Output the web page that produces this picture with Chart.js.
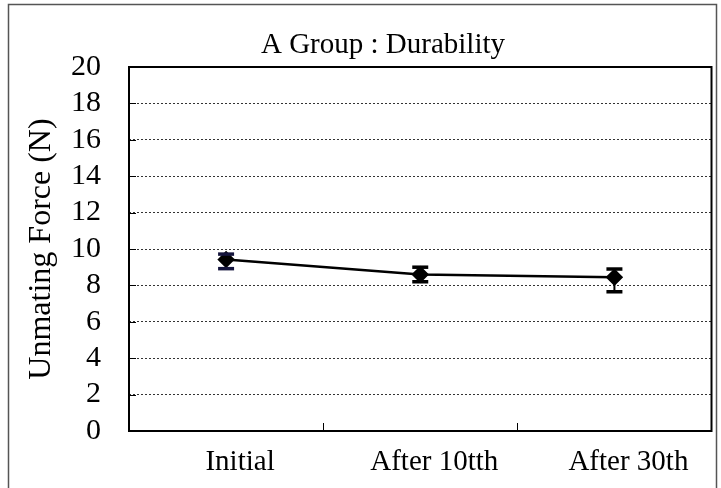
<!DOCTYPE html>
<html>
<head>
<meta charset="utf-8">
<script src="https://cdn.jsdelivr.net/npm/chart.js@4/dist/chart.umd.min.js"></script>
<style>
html,body{margin:0;padding:0;background:#fff;}
#wrap{width:721px;height:488px;position:relative;}
</style>
</head>
<body>
<div id="wrap"><canvas id="c" width="721" height="488"></canvas></div>
<script>
const categories = ["Initial", "After 10tth", "After 30th"];
const meanForce = [9.42, 8.6, 8.45];
const errPlus = [0.3, 0.4, 0.45];
const errMinus = [0.5, 0.4, 0.8];
const titleText = "A Group : Durability";
const yTitle = "Unmating Force (N)";

const FONT = "'Liberation Serif', 'Times New Roman', serif";

const framePlugin = {
  id: 'frame',
  beforeDraw(chart) {
    const ctx = chart.ctx;
    ctx.save();
    ctx.fillStyle = '#fff';
    ctx.fillRect(0, 0, chart.width, chart.height);
    ctx.strokeStyle = '#555';
    ctx.lineWidth = 1.5;
    ctx.beginPath();
    ctx.moveTo(8.5, 495); ctx.lineTo(8.5, 4.5); ctx.lineTo(716.5, 4.5); ctx.lineTo(716.5, 495);
    ctx.stroke();
    // title
    ctx.fillStyle = '#000';
    ctx.font = "29px " + FONT;
    ctx.textAlign = 'center';
    ctx.textBaseline = 'middle';
    ctx.fillText(titleText, 383, 45);
    ctx.restore();
  },
  afterDatasetsDraw(chart) {
    const ctx = chart.ctx;
    const a = chart.chartArea;
    const xs = chart.scales.x, ys = chart.scales.y;
    ctx.save();
    // error bars
    meanForce.forEach((v, i) => {
      const x = xs.getPixelForValue(i);
      const yt = ys.getPixelForValue(v + errPlus[i]);
      const yb = ys.getPixelForValue(v - errMinus[i]);
      ctx.strokeStyle = '#000';
      ctx.lineWidth = 2;
      ctx.beginPath(); ctx.moveTo(x, yt); ctx.lineTo(x, yb); ctx.stroke();
      ctx.lineWidth = 3.5;
      ctx.strokeStyle = i === 0 ? '#14143c' : '#000';
      ctx.beginPath(); ctx.moveTo(x - 8, yt); ctx.lineTo(x + 8, yt); ctx.stroke();
      ctx.beginPath(); ctx.moveTo(x - 8, yb); ctx.lineTo(x + 8, yb); ctx.stroke();
    });
    // plot frame
    ctx.lineWidth = 2;
    ctx.strokeStyle = '#000';
    ctx.strokeRect(a.left, a.top, a.right - a.left, a.bottom - a.top);
    // category boundary ticks
    ctx.lineWidth = 1;
    for (let i = 1; i < categories.length; i++) {
      const x = Math.round((xs.getPixelForValue(i - 1) + xs.getPixelForValue(i)) / 2) + 0.5;
      ctx.beginPath(); ctx.moveTo(x, a.bottom); ctx.lineTo(x, a.bottom - 8); ctx.stroke();
    }
    // y inner ticks
    ys.ticks.forEach(t => {
      const y = Math.round(ys.getPixelForValue(t.value)) + 0.5;
      ctx.beginPath(); ctx.moveTo(a.left, y); ctx.lineTo(a.left + 7, y); ctx.stroke();
    });
    ctx.restore();
  }
};

new Chart(document.getElementById('c'), {
  type: 'line',
  data: {
    labels: categories,
    datasets: [{
      data: meanForce,
      borderColor: '#000',
      borderWidth: 2.5,
      backgroundColor: '#000',
      pointStyle: 'rectRot',
      pointRadius: 7,
      pointBackgroundColor: '#000',
      pointBorderColor: '#000',
      tension: 0,
      fill: false
    }]
  },
  options: {
    responsive: false,
    devicePixelRatio: 1,
    animation: false,
    layout: { padding: { top: 67, right: 8, left: 0, bottom: 0 } },
    plugins: { legend: { display: false }, title: { display: false }, tooltip: { enabled: false } },
    scales: {
      x: {
        offset: true,
        grid: { display: false, drawTicks: false },
        border: { display: false },
        ticks: { color: '#000', font: { family: FONT, size: 29 }, padding: 14, labelOffset: 14, maxRotation: 0, autoSkip: false },
        afterFit(s) { s.height = 488 - 431; }
      },
      y: {
        min: 0, max: 20,
        ticks: { stepSize: 2, autoSkip: false, color: '#000', font: { family: FONT, size: 30 }, padding: 28 },
        grid: {
          drawTicks: false,
          color: ctx => (ctx.tick && (ctx.tick.value === 0 || ctx.tick.value === 20)) ? 'rgba(0,0,0,0)' : '#333',
          lineWidth: 1
        },
        border: { display: false, dash: [2, 2] },
        title: { display: true, text: yTitle, color: '#000', font: { family: FONT, size: 32 }, padding: { top: 22, bottom: 0 } },
        afterFit(s) { s.width = 129; }
      }
    }
  },
  plugins: [framePlugin]
});
</script>
</body>
</html>
